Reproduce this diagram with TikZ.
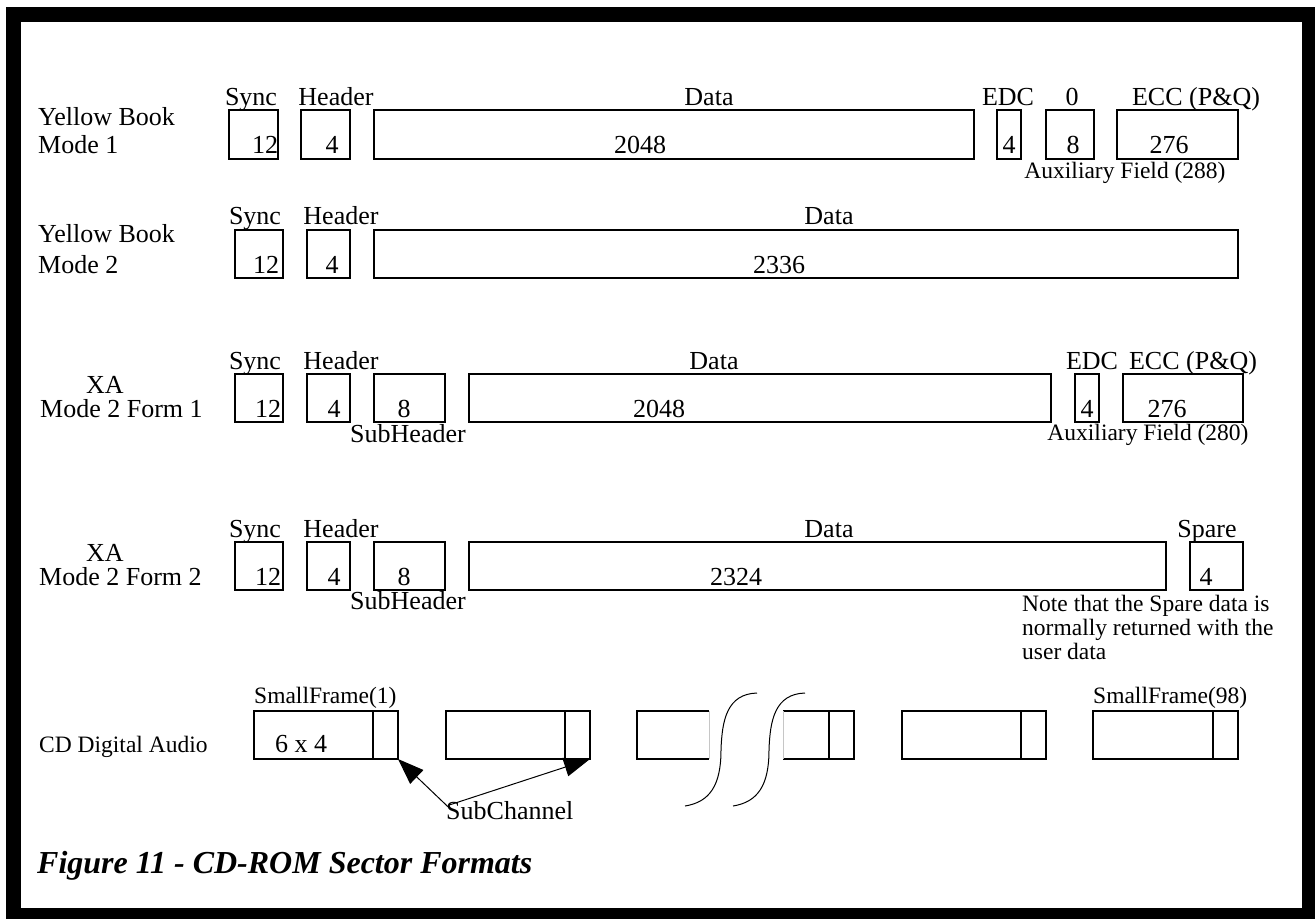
\documentclass[tikz,border=0pt]{standalone}
\usepackage{fontspec}
\setmainfont{Liberation Serif}
\usepackage{tikz}
\usetikzlibrary{positioning, arrows.meta}
\tikzset{
	field/.style= {
		rectangle,
		draw,
		line width=1.2pt,
		inner sep=0pt,
		outer sep=0pt,
		anchor=north west
	},
	tag/.style= {
		inner sep=0pt,
		anchor=base,
		font=\fontsize{26}{30}\selectfont
	},
	smalltag/.style= {
		tag,
		font=\fontsize{23.5}{27}\selectfont
	},
	caption/.style= {
		inner sep=0pt,
		anchor=base west,
		font=\fontsize{32}{36}\selectfont\bfseries\itshape
	},
	subarrow/.style= {
		-{Triangle[length=26pt, width=19pt]},
		line width=1pt
	}
}

\begin{document}
\begin{tikzpicture}[x=1pt, y=-1pt]

	\useasboundingbox (0,0) rectangle (1315,919);
	\fill[black] (6,7) rectangle (1315,919);
	\fill[white] (21,22) rectangle (1302,908);

	% Yellow Book Mode 1
	\node (yb1)[tag, anchor=base west] at (38,125) {Yellow Book};
	\node (mode1)[tag, below=28pt of yb1.base west, anchor=base west] {Mode 1};
	
	\foreach \n/\x/\w in {sync/229/49, head/301/49, data/374/600, edc/997/24, zero/1046/48, ecc/1117/121}
	{
		\node (\n1)[field, minimum width=\w pt, minimum height=49pt] at (\x,110) {};
	}
	\foreach \n/\t/\x in {sync/Sync/251, head/Header/336, data/Data/709, edc/EDC/1008, zero/0/1072, ecc/{ECC (P\&Q)}/1196}
	{
		\node (\n L1)[tag] at (\x,105) {\t};
	}
	\foreach \n/\t/\x in {sync/12/265, head/4/332, data/2048/640, edc/4/1009, zero/8/1073, ecc/276/1169}
	{
		\node (\n N1)[tag] at (\x,153) {\t};
	}
	\node (aux1)[smalltag] at (1125,178) {Auxiliary Field (288)};
	
	% Yellow Book Mode 2
	\node (yb2)[tag, anchor=base west] at (38,242) {Yellow Book};
	\node (mode2)[tag, below=31pt of yb2.base west, anchor=base west] {Mode 2};
	
	\foreach \n/\x/\w in {sync/235/48, head/307/43, data/374/864}
	{
		\node (\n2)[field, minimum width=\w pt, minimum height=48pt] at (\x,230) {};
	}
	\foreach \n/\t/\x in {sync/Sync/255, head/Header/341, data/Data/829}
	{
		\node (\n L2)[tag] at (\x,224) {\t};
	}
	\foreach \n/\t/\x in {sync/12/266, head/4/332, data/2336/779}
	{
		\node (\n N2)[tag] at (\x,273) {\t};
	}
	
	% XA Mode 2 Form 1
	\node (xa3)[tag] at (105,393) {XA};
	\node (mode3)[tag, anchor=base west] at (40,417) {Mode 2 Form 1};
	
	\foreach \n/\x/\w in {sync/235/48, head/307/43, sub/374/71, data/469/582, edc/1075/24, ecc/1123/120}
	{
		\node (\n3)[field, minimum width=\w pt, minimum height=48pt] at (\x,374) {};
	}
	\foreach \n/\t/\x in {sync/Sync/255, head/Header/341, data/Data/714, edc/EDC/1092, ecc/{ECC (P\&Q)}/1193}
	{
		\node (\n L3)[tag] at (\x,369) {\t};
	}
	\foreach \n/\t/\x in {sync/12/268, head/4/334, sub/8/404, data/2048/659, edc/4/1087, ecc/276/1167}
	{
		\node (\n N3)[tag] at (\x,417) {\t};
	}
	\node (subL3)[tag] at (408,442) {SubHeader};
	\node (aux3)[smalltag] at (1148,440) {Auxiliary Field (280)};
	
	% XA Mode 2 Form 2
	\node (xa4)[tag] at (105,561) {XA};
	\node (mode4)[tag, anchor=base west] at (39,585) {Mode 2 Form 2};
	
	\foreach \n/\x/\w in {sync/235/48, head/307/43, sub/374/71, data/469/697, spare/1190/53}
	{
		\node (\n4)[field, minimum width=\w pt, minimum height=48pt] at (\x,542) {};
	}
	\foreach \n/\t/\x in {sync/Sync/255, head/Header/341, data/Data/829, spare/Spare/1207}
	{
		\node (\n L4)[tag] at (\x,537) {\t};
	}
	\foreach \n/\t/\x in {sync/12/268, head/4/334, sub/8/404, data/2324/736, spare/4/1206}
	{
		\node (\n N4)[tag] at (\x,585) {\t};
	}
	\node (subL4)[tag] at (408,609) {SubHeader};
	\node (note1)[smalltag, anchor=base west] at (1022,611) {Note that the Spare data is};
	\node (note2)[smalltag, below=24pt of note1.base west, anchor=base west] {normally returned with the};
	\node (note3)[smalltag, below=24pt of note2.base west, anchor=base west] {user data};
	
	% CD Digital Audio
	\node (cd)[smalltag, anchor=base west] at (39,752) {CD Digital Audio};
	
	\foreach \n/\x/\w in {1/254/144, 2/446/144, 5/902/144, 6/1093/145}
	{
		\node (frame\n)[field, minimum width=\w pt, minimum height=48pt] at (\x,711) {};
		\draw[line width=1.2pt] ([xshift=-25pt]frame\n.north east) -- ([xshift=-25pt]frame\n.south east);
	}
	\node (frame3)[field, draw=none, minimum width=72pt, minimum height=48pt] at (637,711) {};
	\draw[line width=1.2pt] (frame3.north east) -- (frame3.north west) -- (frame3.south west) -- (frame3.south east);
	\draw[gray!45] (frame3.north east) -- (frame3.south east);
	\node (frame4)[field, draw=none, minimum width=71pt, minimum height=48pt] at (783,711) {};
	\draw[line width=1.2pt] (frame4.north west) -- (frame4.north east) -- (frame4.south east) -- (frame4.south west);
	\draw[gray!45] (frame4.north west) -- (frame4.south west);
	\draw[line width=1.2pt] ([xshift=-25pt]frame4.north east) -- ([xshift=-25pt]frame4.south east);
	
	\node (sf1)[smalltag, anchor=base west] at (254,703) {SmallFrame(1)};
	\node (sf98)[smalltag, anchor=base west] at (1093,703) {SmallFrame(98)};
	\node (six)[tag] at (301,752) {6 x 4};
	
	\node (subch)[tag, anchor=base west] at (446,819) {SubChannel};
	\draw[subarrow] ([shift={(2pt,-6pt)}]subch.north west) to (frame1.south east);
	\draw[subarrow] ([shift={(4pt,-4pt)}]subch.north west) to (frame2.south east);
	
	% break in the frame sequence
	\draw[line width=1pt] (757,693) .. controls (727,694) and (722,720) .. (721,750) .. controls (721,785) and (710,802) .. (685,806);
	\draw[line width=1pt, xshift=48pt] (757,693) .. controls (727,694) and (722,720) .. (721,750) .. controls (721,785) and (710,802) .. (685,806);
	
	\node (cap)[caption] at (37,873) {Figure 11 - CD-ROM Sector Formats};
	
\end{tikzpicture}
\end{document}
